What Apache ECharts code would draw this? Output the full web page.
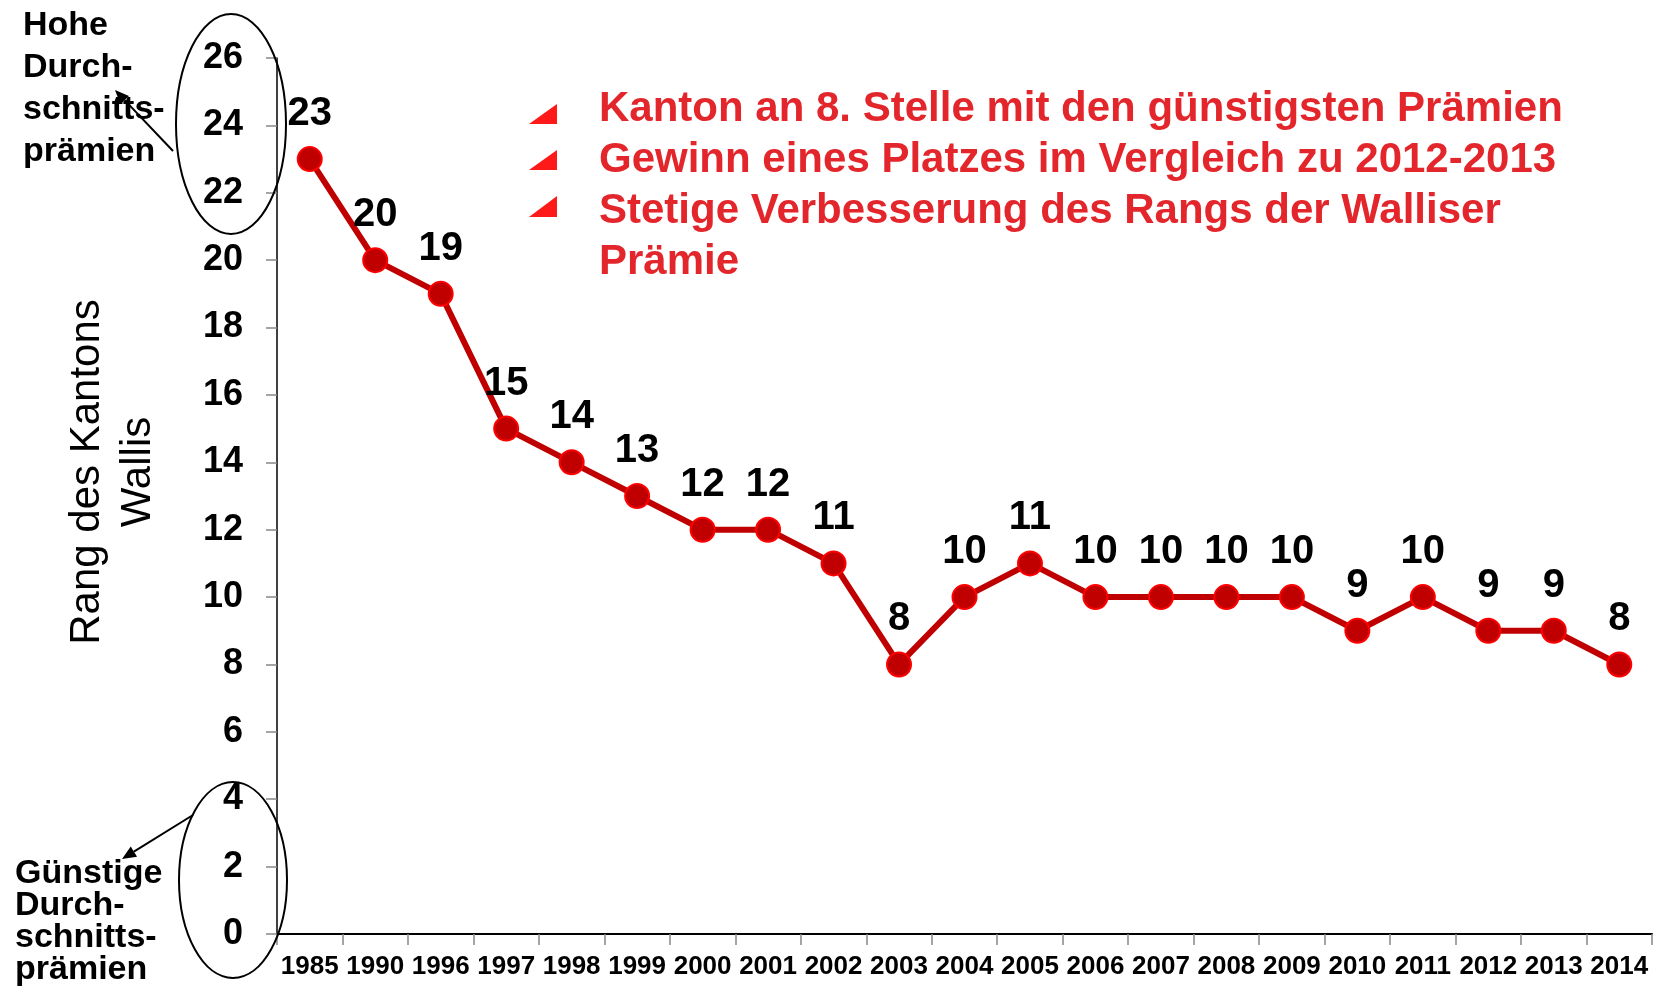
<!DOCTYPE html>
<html>
<head>
<meta charset="utf-8">
<script src="https://cdn.jsdelivr.net/npm/echarts@6/dist/echarts.min.js"></script>
<style>
html,body{margin:0;padding:0;background:#fff;}
#chart{width:1659px;height:987px;}
</style>
</head>
<body>
<div id="chart"></div>
<script>
// Daten
var jahre=['1985','1990','1996','1997','1998','1999','2000','2001','2002','2003','2004','2005','2006','2007','2008','2009','2010','2011','2012','2013','2014'];
var rang=[23,20,19,15,14,13,12,12,11,8,10,11,10,10,10,10,9,10,9,9,8];
var punkte=[
    'Kanton an 8. Stelle mit den günstigsten Prämien',
    'Gewinn eines Platzes im Vergleich zu 2012-2013',
    'Stetige Verbesserung des Rangs der Walliser',
    'Prämie'
];
var achsenTitel=['Rang des Kantons','Wallis'];
var obenText=['Hohe','Durch-','schnitts-','prämien'];
var untenText=['Günstige','Durch-','schnitts-','prämien'];

var fontBold='bold 34px "Liberation Sans", Arial, sans-serif';

//Pfeil mit Spitze
function pfeil(x1,y1,x2,y2){
    var dx=x2-x1,dy=y2-y1;
    var len=Math.sqrt(dx*dx+dy*dy);
    var ux=dx/len,uy=dy/len;
    var bx=x2-ux*14,by=y2-uy*14;
    var px=-uy*6,py=ux*6;
    return [
        {type:'line',z:10,shape:{x1:x1,y1:y1,x2:bx,y2:by},style:{stroke:'#000',lineWidth:2}},
        {type:'polygon',z:10,shape:{points:[[x2,y2],[bx+px,by+py],[bx-px,by-py]]},style:{fill:'#000'}}
    ];
}

var grafik=[];
//Ellipsen
grafik.push({type:'ellipse',z:10,shape:{cx:231,cy:124,rx:55,ry:110},style:{fill:null,stroke:'#000',lineWidth:2}});
grafik.push({type:'ellipse',z:10,shape:{cx:233,cy:880,rx:54,ry:98},style:{fill:null,stroke:'#000',lineWidth:2}});
grafik=grafik.concat(pfeil(173,151,115,90));
grafik=grafik.concat(pfeil(193,815,122,859));

//Texte links
grafik.push({type:'text',z:11,left:23,top:5,style:{text:obenText.join('\n'),font:fontBold,lineHeight:42,fill:'#000'}});
grafik.push({type:'text',z:11,left:15,top:857,style:{text:untenText.join('\n'),font:fontBold,lineHeight:32,fill:'#000'}});

//Achsentitel
grafik.push({type:'text',x:113,y:472,rotation:Math.PI/2,style:{
    text:achsenTitel.join('\n'),font:'42px "Liberation Sans", Arial, sans-serif',
    lineHeight:51,fill:'#000',align:'center',verticalAlign:'middle'}});

//Aufzählung rechts
grafik.push({type:'text',left:599,top:84,style:{text:punkte.join('\n'),
    font:'bold 42px "Liberation Sans", Arial, sans-serif',lineHeight:51,fill:'#E3262B'}});
var bullets=[[104,124],[150,170],[196,217]];
bullets.forEach(function(b){
    grafik.push({type:'polygon',shape:{points:[[529,b[1]],[557,b[1]],[557,b[0]]]},style:{fill:'#FF1A1A'}});
});

var myChart=echarts.init(document.getElementById('chart'));
var option={
    backgroundColor:'#fff',
    animation:false,
    grid:{left:277,right:7,top:58,bottom:53,containLabel:false},
    xAxis:{
        type:'category',
        data:jahre,
        boundaryGap:true,
        axisLine:{lineStyle:{color:'#000',width:2}},
        axisTick:{show:true,length:11,lineStyle:{color:'#888',width:1.5}},
        axisLabel:{interval:0,margin:20,color:'#000',fontSize:26,fontWeight:'bold',
            fontFamily:'"Liberation Sans", Arial, sans-serif'}
    },
    yAxis:{
        type:'value',
        min:0,max:26,interval:2,
        axisLine:{show:true,lineStyle:{color:'#000',width:1.5}},
        axisTick:{show:true,length:11,lineStyle:{color:'#888',width:1.5}},
        splitLine:{show:false},
        axisLabel:{margin:34,color:'#000',fontSize:36,fontWeight:'bold',
            fontFamily:'"Liberation Sans", Arial, sans-serif'}
    },
    series:[{
        type:'line',
        data:rang,
        symbol:'circle',
        symbolSize:24,
        lineStyle:{color:'#C00000',width:6},
        itemStyle:{color:'#C00000',borderColor:'#FF0000',borderWidth:2},
        label:{show:true,position:'top',distance:12,color:'#000',fontSize:40,fontWeight:'bold',
            fontFamily:'"Liberation Sans", Arial, sans-serif'},
        z:3
    }],
    graphic:grafik
};
myChart.setOption(option);
</script>
</body>
</html>
